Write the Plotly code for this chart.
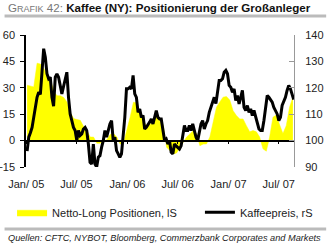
import pandas as pd
import plotly.graph_objects as go

# Netto-Long Positionen (left axis), approx. every 12 days
netto_long = [
    31.5, 31, 30.5, 44, 43.5, 41, 37.5, 35, 28, 25.5, 25.5, 24.5, 22, 16, 12.5, 12, 11.5, 8, 5.7, 2,
    2, -1.5, -1.5, 0, 0.5, 3.5, 4, 2, -2, -1.5, 5.7, 13.3, 21.8, 21.5, 16, 11, 8.5, 9, 12, 13.5, 12.3,
    8.5, -3.8, -6, -7.6, -7, -4, -1, 2, 3.8, 5.7, 4, -2.9, -2, -1.9, 2, 11.4, 19, 22, 24.7, 25, 23,
    17, 14.2, 12.3, 12.3, 8.5, 5, 5.7, 5, 2, -4.7, -6, 2, 13.3, 14.5, 9, 4, 8.5, 19, 24.7,
]
netto_dates = pd.date_range("2005-01-04", "2007-08-21", periods=len(netto_long))

# Kaffeepreis (right axis), approx. every 6 days
kaffeepreis = [
    96, 101.3, 103, 105, 108.8, 112.6, 116.4, 118.3, 117.5, 126, 134.8, 131.6, 125.3, 123.4, 124,
    116.4, 113, 124, 125.3, 124, 120.9, 117.7, 120.5, 122.8, 125.9, 116.4, 110.1, 107.6, 105, 103.8,
    100, 103.8, 101.9, 102.5, 104.4, 105, 103.8, 98.7, 91.8, 91.1,
    98.7, 91.1, 90, 93.7, 94.3, 97.5, 100, 103.8, 101.3, 103.8, 106.3, 107.6, 100, 101.3, 96.2, 95,
    93.7, 95, 101.3, 108.8, 119.6, 119.6, 120.2, 119.6, 124.7, 117.7, 116.4, 110.7, 112, 108.8, 109.5,
    104.4, 105, 106.3, 107, 108.2, 106.3, 108.8, 111.4, 108.8, 108.2, 108.2,
    103.8, 100, 100.6, 98.7, 100, 95.6, 95, 98.7, 98, 97.5, 96.8, 98, 101.3, 105.7, 103.8, 103.8,
    105.7, 103.8, 106.3, 103.8, 101.3, 100, 103.8, 106.3, 107.6, 104.4, 106.3, 107.6, 110.7, 112.6,
    115.2, 116.4, 114, 117.7, 122.8, 122.8, 123.4, 125.9, 126.6, 125.3, 120.9, 120.2,
    118.3, 119.6, 115.2, 117.1, 113.9, 116.4, 119, 112.6, 111.4, 113.3, 110.7, 112, 109.5, 111.4,
    108.8, 106.9, 104.4, 103.8, 103.8, 107.6, 112.6, 117.1, 116.4, 115.2, 114.6, 112.6, 111.4, 110.1,
    107.6, 108.8, 113.3, 114.6, 116.4, 119, 120.9, 119.6, 117.1, 115.5,
]
preis_dates = pd.date_range("2005-01-04", "2007-08-24", periods=len(kaffeepreis))

tick_dates = ["2005-01-01", "2005-07-01", "2006-01-01", "2006-07-01", "2007-01-01", "2007-07-01"]
tick_labels = ["Jan/ 05", "Jul/ 05", "Jan/ 06", "Jul/ 06", "Jan/ 07", "Jul/ 07"]
left_ticks = [-15, 0, 15, 30, 45, 60]
right_ticks = [90, 100, 110, 120, 130, 140]

FONT = "Liberation Sans, Arial, sans-serif"

fig = go.Figure()
fig.add_trace(go.Scatter(
    x=netto_dates, y=netto_long, name="Netto-Long Positionen, lS",
    fill="tozeroy", fillcolor="#FFFF00", mode="lines",
    line=dict(color="#FFFF00", width=0.5), xaxis="x", yaxis="y", legend="legend",
))
fig.add_trace(go.Scatter(
    x=preis_dates, y=kaffeepreis, name="Kaffeepreis, rS",
    mode="lines", line=dict(color="black", width=3), xaxis="x", yaxis="y2", legend="legend2",
))
# helper trace to carry the zero-line axis
fig.add_trace(go.Scatter(
    x=netto_dates, y=netto_long, mode="lines", line=dict(width=0, color="rgba(0,0,0,0)"),
    showlegend=False, hoverinfo="skip", xaxis="x2", yaxis="y",
))

legend_common = dict(
    orientation="h", y=-0.233, xanchor="left", yanchor="top",
    font=dict(size=11, color="#222"), bgcolor="rgba(0,0,0,0)",
)

fig.update_layout(
    width=329, height=246,
    margin=dict(l=26, r=35, t=35, b=79, autoexpand=False),
    paper_bgcolor="white", plot_bgcolor="white",
    font=dict(family=FONT, size=11, color="#222"),
    showlegend=True,
    legend=dict(x=-0.052, **legend_common),
    legend2=dict(x=0.649, **legend_common),
    xaxis=dict(
        type="date", range=["2004-12-31", "2007-08-25"],
        tickvals=tick_dates, ticktext=tick_labels,
        showline=False, ticks="", showgrid=False, zeroline=False,
        ticklabelstandoff=9, tickfont=dict(size=11, color="#222"),
    ),
    xaxis2=dict(
        type="date", matches="x", overlaying="x", anchor="free", position=0.2,
        tickvals=tick_dates, showticklabels=False,
        showline=True, linecolor="black", linewidth=1.5,
        ticks="outside", ticklen=3, tickcolor="black", tickwidth=1,
        showgrid=False, zeroline=False,
    ),
    yaxis=dict(
        range=[-15, 60], tickvals=left_ticks,
        showline=True, linecolor="black", linewidth=1.5,
        ticks="outside", ticklen=4, tickcolor="black",
        showgrid=False, zeroline=False, ticklabelstandoff=3,
        tickfont=dict(size=11, color="#222"),
    ),
    yaxis2=dict(
        range=[90, 140], tickvals=right_ticks, overlaying="y", side="right",
        showline=True, linecolor="#999", linewidth=1,
        ticks="inside", ticklen=5, tickcolor="#999",
        showgrid=False, zeroline=False, ticklabelstandoff=8,
        tickfont=dict(size=11, color="#222"),
    ),
    shapes=[
        dict(type="line", xref="paper", yref="paper", x0=-0.08, x1=1.12, y0=1.144, y1=1.144,
             line=dict(color="#bbbbbb", width=3)),
        dict(type="line", xref="paper", yref="paper", x0=-0.08, x1=1.12, y0=-0.47, y1=-0.47,
             line=dict(color="#bbbbbb", width=3)),
    ],
    annotations=[
        dict(xref="paper", yref="paper", x=-0.073, y=1.205, xanchor="left", yanchor="middle",
             showarrow=False,
             text="<span style='color:#777'>G<span style='font-size:9px'>RAFIK</span> 42:</span> "
                  "<b>Kaffee (NY): Positionierung der Großanleger</b>",
             font=dict(size=11.6, color="#111", family=FONT)),
        dict(xref="paper", yref="paper", x=-0.073, y=-0.54, xanchor="left", yanchor="middle",
             showarrow=False,
             text="<i>Quellen: CFTC, NYBOT, Bloomberg, Commerzbank Corporates and Markets</i>",
             font=dict(size=9.2, color="#222", family=FONT)),
    ],
)

fig.write_html("out.html")
